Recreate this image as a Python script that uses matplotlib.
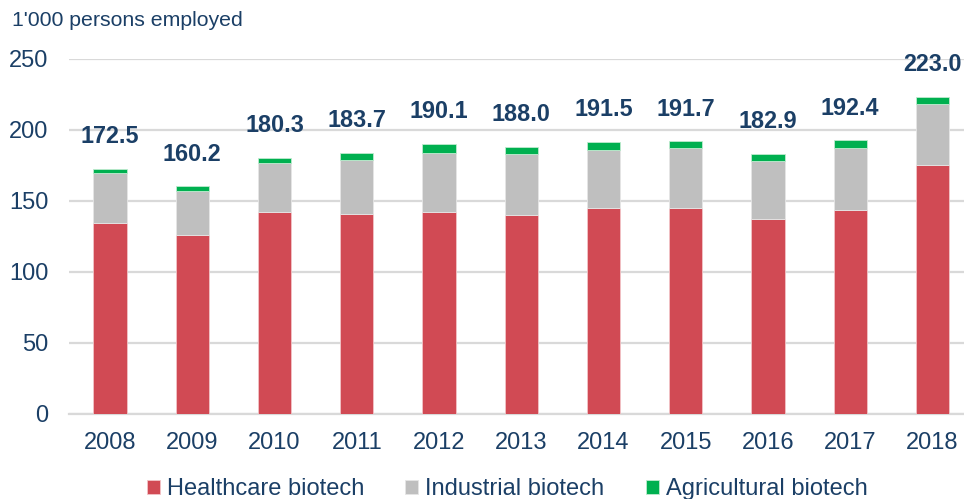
import matplotlib.pyplot as plt
import numpy as np

years = ['2008', '2009', '2010', '2011', '2012', '2013', '2014', '2015', '2016', '2017', '2018']
healthcare = [134.0, 126.0, 142.0, 140.5, 142.0, 140.0, 145.0, 145.0, 137.0, 143.8, 175.0]
industrial = [35.5, 31.0, 34.3, 38.0, 41.5, 42.5, 41.0, 42.0, 40.9, 43.6, 43.2]
agricultural = [3.0, 3.2, 4.0, 5.2, 6.6, 5.5, 5.5, 4.7, 5.0, 5.0, 4.8]
totals = [172.5, 160.2, 180.3, 183.7, 190.1, 188.0, 191.5, 191.7, 182.9, 192.4, 223.0]

navy = '#1B3F66'
plt.rcParams['font.family'] = ['Liberation Sans', 'DejaVu Sans']

fig = plt.figure(figsize=(9.64, 4.99), dpi=100)
ax = fig.add_axes([69 / 964, (499 - 414) / 499, 1 - 69 / 964, (414 - 58.5) / 499])

x = np.arange(len(years))
w = 0.405
hc = np.array(healthcare)
ind = np.array(industrial)
ag = np.array(agricultural)
b1 = ax.bar(x, hc, w, color='#D14A54', edgecolor='#F2C4C7', linewidth=0.6, label='Healthcare biotech', zorder=3)
b2 = ax.bar(x, ind, w, bottom=hc, color='#BFBFBF', edgecolor='#E6E6E6', linewidth=0.6, label='Industrial biotech', zorder=3)
b3 = ax.bar(x, ag, w, bottom=hc + ind, color='#00B050', edgecolor='#BFEBCF', linewidth=0.6, label='Agricultural biotech', zorder=3)

# etiquetas de total encima de cada barra
for i, t in enumerate(totals):
    ax.annotate(f'{t:.1f}', (x[i], hc[i] + ind[i] + ag[i]), xytext=(0, 23), textcoords='offset points',
                ha='center', va='center', fontsize=16.8, fontweight='bold', color=navy)

ax.set_ylim(0, 250)
ax.set_xlim(-0.4985, 10.383)
ax.set_yticks([0, 50, 100, 150, 200, 250])
ax.set_xticks(x)
ax.set_xticklabels(years)
ax.yaxis.grid(True, color='#D9D9D9', linewidth=1.6, zorder=0)
for s in ['top', 'right', 'left']:
    ax.spines[s].set_visible(False)
ax.spines['bottom'].set_color('#D9D9D9')
ax.spines['bottom'].set_linewidth(1.6)
ax.tick_params(axis='both', length=0, labelsize=17, labelcolor=navy)
ax.tick_params(axis='y', pad=15)
ax.tick_params(axis='x', pad=13)

fig.text(12 / 964, 1 - 20 / 499, "1'000 persons employed", fontsize=15.3, color=navy, va='center', ha='left')

fig.legend(handles=[b1, b2, b3], loc='center', bbox_to_anchor=(0.526, 0.02), ncol=3, frameon=False,
           fontsize=17, labelcolor=navy, handlelength=0.55, handleheight=0.55, handletextpad=0.3,
           columnspacing=1.75)

fig.savefig('out.png', dpi=100)
